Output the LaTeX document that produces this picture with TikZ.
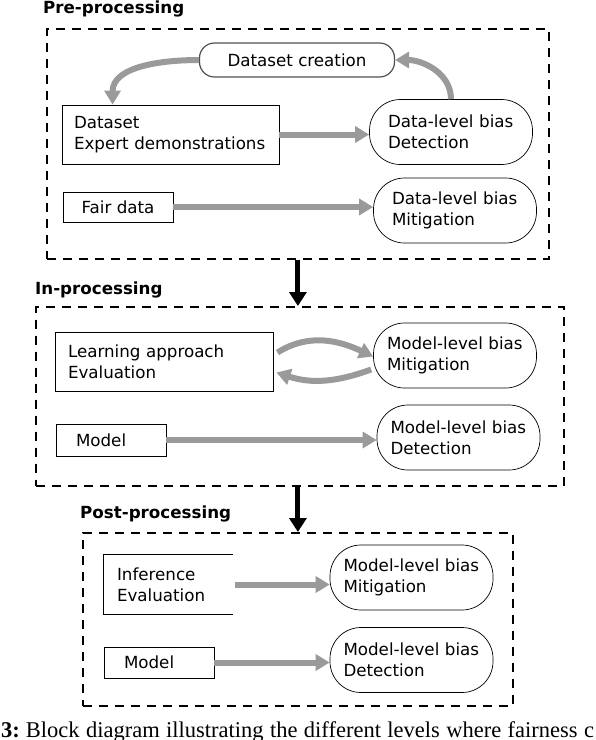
\documentclass[tikz,border=0pt]{standalone}
\usepackage{fontspec}
\setmainfont{DejaVu Sans}
\newfontfamily\capfont{Liberation Serif}
\usetikzlibrary{arrows.meta,calc}
\definecolor{arrgray}{HTML}{9A9A9A}
\definecolor{pillgray}{HTML}{505050}
\tikzset{
  frame/.style={draw, line width=1.8pt, dash pattern=on 9pt off 7pt, inner sep=0pt, anchor=north west},
  lbl/.style={font=\fontsize{16.7}{20}\selectfont\bfseries, anchor=base west, inner sep=0pt},
  txt/.style={font=\fontsize{16.7}{21}\selectfont},
  box/.style={txt, draw, line width=0.9pt, align=left, inner ysep=0pt},
  bias/.style={txt, draw, line width=0.7pt, rounded corners=31pt, minimum width=163pt, minimum height=65pt, align=left, inner xsep=0pt, inner ysep=0pt, text width=136pt},
  garrow/.style={draw=arrgray, line width=6pt, -{Triangle[width=16pt,length=14pt]}},
  barrow/.style={draw=black, line width=5pt, -{Triangle[width=17pt,length=14pt]}},
}
\begin{document}
\begin{tikzpicture}[x=1pt,y=1pt]
\clip (0,0) rectangle (596,-740);

% ---------- Pre-processing ----------
\node[lbl] (lPre) at (43,-13) {Pre-processing};
\node[frame, minimum width=502pt, minimum height=230pt] (f1) at (46,-28) {};
\node[txt, draw=pillgray, line width=1.2pt, rounded corners=15pt, minimum width=195pt, minimum height=34pt, inner sep=0pt] (nCreate) at (297,-60) {Dataset creation};
\node[box, minimum width=217pt, minimum height=59pt, inner xsep=12pt, text width=193pt] (nData) at (170.5,-134.5) {Dataset\\Expert demonstrations};
\node[bias, text width=126pt] (nDet1) at (451,-132) {Data-level bias\\Detection};
\node[box, minimum width=110pt, minimum height=30pt, inner xsep=0pt] (nFair) at (118,-207) {Fair data};
\node[bias, text width=126pt] (nMit1) at (455,-210.5) {Data-level bias\\Mitigation};

\draw[garrow] (nData.east) -- (nData.east -| nDet1.west);
\draw[garrow] (nFair.east) -- (nFair.east -| nMit1.west);
\draw[garrow] (nCreate.west) to[out=180,in=90] ($(nData.north west)+(51,0)$);
\draw[garrow] (nDet1.north) to[out=90,in=0] (nCreate.east);

% ---------- In-processing ----------
\node[lbl] (lIn) at (35,-294) {In-processing};
\node[frame, minimum width=528pt, minimum height=179pt] (f2) at (35,-306) {};
\node[box, minimum width=218pt, minimum height=59pt, inner xsep=13pt, text width=192pt] (nLearn) at (164,-361.5) {Learning approach\\Evaluation};
\node[box, minimum width=110pt, minimum height=32pt, inner xsep=20pt, text width=70pt] (nModel1) at (111,-440) {Model};
\node[bias] (nMit2) at (455,-355.5) {Model-level bias\\Mitigation};
\node[bias] (nDet2) at (458.5,-437.5) {Model-level bias\\Detection};

\draw[garrow] ([shift={(4pt,9pt)}]nLearn.east) to[out=32,in=155] ([yshift=-1pt]nMit2.west);
\draw[garrow] ([shift={(-2pt,-14pt)}]nMit2.west) to[out=200,in=-18] ([shift={(3pt,-11pt)}]nLearn.east);
\draw[garrow] (nModel1.east) -- (nModel1.east -| nDet2.west);

% ---------- Post-processing ----------
\node[lbl] (lPost) at (80,-518) {Post-processing};
\node[frame, minimum width=430pt, minimum height=173pt] (f3) at (82,-532) {};
\node[txt, align=left, minimum width=129pt, minimum height=59pt, inner xsep=13pt, inner ysep=0pt, text width=103pt] (nInf) at (168.5,-584.5) {Inference\\Evaluation};
\draw[line width=0.9pt] (nInf.north east) -- (nInf.north west) -- (nInf.south west) -- (nInf.south east);
\node[box, minimum width=110pt, minimum height=31pt, inner xsep=20pt, text width=70pt] (nModel2) at (159,-662.5) {Model};
\node[bias] (nMit3) at (411.5,-577.5) {Model-level bias\\Mitigation};
\node[bias] (nDet3) at (411.5,-660) {Model-level bias\\Detection};

\draw[garrow] ([xshift=2pt]nInf.east) -- (nInf.east -| nMit3.west);
\draw[garrow] (nModel2.east) -- (nModel2.east -| nDet3.west);

% ---------- stage arrows ----------
\draw[barrow] (f1.south) -- (f1.south |- f2.north);
\draw[barrow] (f2.south -| f3.north) -- (f3.north);

% ---------- caption (cut off, as in the reference) ----------
\node[anchor=base west, inner sep=0pt, font=\capfont\fontsize{22.5}{26}\selectfont] (cap) at (1,-737) {\textbf{3:}\hspace{6pt}\makebox[568pt][s]{Block diagram illustrating the different levels where fairness c}};
\end{tikzpicture}
\end{document}
